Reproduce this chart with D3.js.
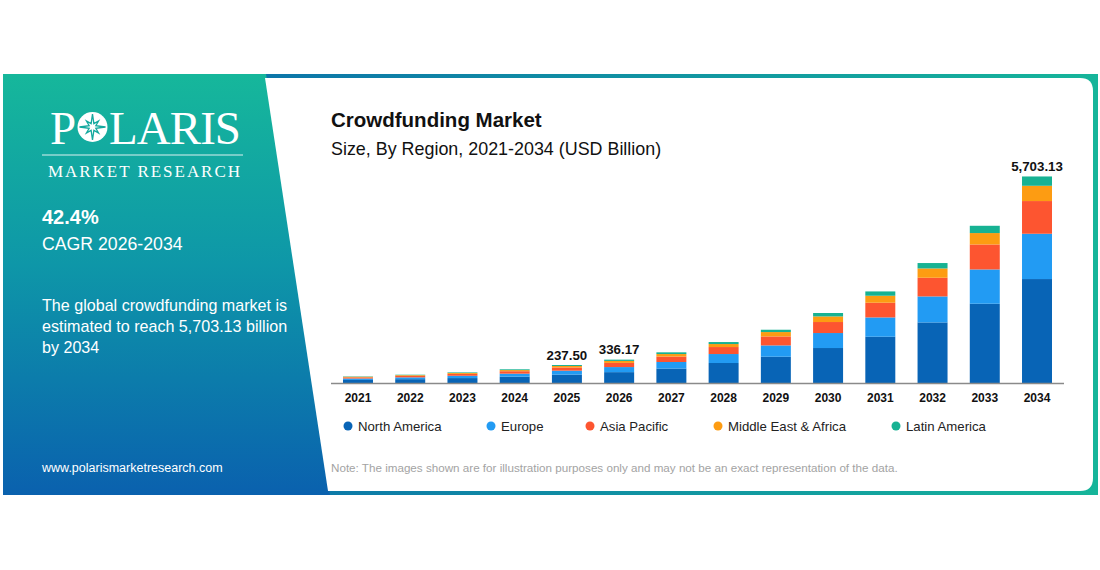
<!DOCTYPE html>
<html>
<head>
<meta charset="utf-8">
<script src="https://cdn.jsdelivr.net/npm/d3@7"></script>
<style>
  body { margin: 0; background: #fff; }
  svg { display: block; font-family: "Liberation Sans", Arial, sans-serif; }
</style>
</head>
<body>
<script>
// chart values (bars are drawn as pictured)
var years = ["2021","2022","2023","2024","2025","2026","2027","2028","2029","2030","2031","2032","2033","2034"];
var regions = ["North America", "Europe", "Asia Pacific", "Middle East & Africa", "Latin America"];
var colors = ["#0864b6", "#229bf3", "#fd5530", "#fd9c12", "#17b293"];

var northAmerica = [84, 106, 136, 176, 232, 300, 400, 552, 726, 966, 1278, 1673, 2189, 2871];
var europe       = [40, 50, 64, 82, 108, 140, 180, 248, 312, 414, 533, 718, 947, 1251];
var asiaPacific  = [32, 41, 52, 67, 88, 115, 150, 193, 248, 304, 406, 516, 690, 903];
var meAfrica     = [16, 20, 25, 32, 42, 55, 70, 83, 121, 155, 193, 257, 315, 422];
var latAmerica   = [10, 12, 16, 21, 27, 35, 47, 55, 64, 94, 119, 149, 201, 257];

var valueLabels = [
  {year: "2025", text: "237.50"},
  {year: "2026", text: "336.17"},
  {year: "2034", text: "5,703.13"}
];

var W = 1100, H = 570;
var svg = d3.select("body").append("svg")
  .attr("width", W)
  .attr("height", H);

var defs = svg.append("defs");
var hg = defs.append("linearGradient").attr("id", "frameGrad")
  .attr("x1", "0%").attr("y1", "0%").attr("x2", "100%").attr("y2", "0%");
hg.append("stop").attr("offset", "0%").attr("stop-color", "#0a62ae");
hg.append("stop").attr("offset", "100%").attr("stop-color", "#16b59a");

var vg = defs.append("linearGradient").attr("id", "panelGrad")
  .attr("x1", "0%").attr("y1", "0%").attr("x2", "0%").attr("y2", "100%");
vg.append("stop").attr("offset", "0%").attr("stop-color", "#16b79b");
vg.append("stop").attr("offset", "45%").attr("stop-color", "#0e97a8");
vg.append("stop").attr("offset", "100%").attr("stop-color", "#0a61ae");

// frame + left panel
svg.append("rect")
  .attr("x", 3).attr("y", 74)
  .attr("width", 1095).attr("height", 421)
  .attr("fill", "url(#frameGrad)");

svg.append("path")
  .attr("d", "M3,74 L266,74 L330,495 L3,495 Z")
  .attr("fill", "url(#panelGrad)");

// white chart card
var r = 13;
svg.append("path")
  .attr("d", "M265,78 L" + (1093 - r) + ",78 Q1093,78 1093," + (78 + r) +
    " L1093," + (491 - r) + " Q1093,491 " + (1093 - r) + ",491 L328,491 Z")
  .attr("fill", "#fff");

// logo
var logo = svg.append("g").attr("fill", "#fff");
logo.append("text")
  .attr("x", 50).attr("y", 144)
  .style("font-family", "'Liberation Serif', 'DejaVu Serif', serif")
  .style("font-size", "47px")
  .text("P");
logo.append("text")
  .attr("x", 109).attr("y", 144)
  .attr("textLength", 132)
  .style("font-family", "'Liberation Serif', 'DejaVu Serif', serif")
  .style("font-size", "47px")
  .text("LARIS");

var cx = 92.5, cy = 127;
logo.append("circle").attr("cx", cx).attr("cy", cy).attr("r", 15);
var star = [];
for (var i = 0; i < 16; i++) {
  var a = i * Math.PI / 8 - Math.PI / 2;
  var rr = (i % 4 === 0) ? 13 : (i % 2 === 0 ? 8.5 : 3.6);
  star.push([cx + rr * Math.cos(a), cy + rr * Math.sin(a)]);
}
svg.append("path")
  .attr("d", d3.line()(star) + "Z")
  .attr("fill", "#fff")
  .attr("stroke", "#14a99f")
  .attr("stroke-width", 1.3);

svg.append("line")
  .attr("x1", 42).attr("x2", 243)
  .attr("y1", 155).attr("y2", 155)
  .attr("stroke", "#fff").attr("stroke-width", 1.2).attr("opacity", 0.85);

svg.append("text")
  .attr("x", 48).attr("y", 177)
  .attr("textLength", 192)
  .attr("fill", "#fff")
  .style("font-family", "'Liberation Serif', 'DejaVu Serif', serif")
  .style("font-size", "17px")
  .text("MARKET RESEARCH");

// left panel text
svg.append("text")
  .attr("x", 42).attr("y", 224)
  .attr("fill", "#fff")
  .style("font-size", "20px").style("font-weight", "bold")
  .text("42.4%");
svg.append("text")
  .attr("x", 42).attr("y", 250)
  .attr("fill", "#fff")
  .style("font-size", "17.7px")
  .text("CAGR 2026-2034");

var para = ["The global crowdfunding market is",
  "estimated to reach 5,703.13 billion", "by 2034"];
svg.append("g").selectAll("text")
  .data(para)
  .join("text")
  .attr("x", 42)
  .attr("y", function(d, i) { return 311 + i * 21; })
  .attr("fill", "#fff")
  .style("font-size", "16.1px")
  .text(function(d) { return d; });

svg.append("text")
  .attr("x", 42).attr("y", 472)
  .attr("fill", "#fff")
  .style("font-size", "12.5px")
  .text("www.polarismarketresearch.com");

// titles
svg.append("text")
  .attr("x", 331).attr("y", 127)
  .attr("fill", "#111")
  .style("font-size", "20.5px").style("font-weight", "bold")
  .text("Crowdfunding Market");
svg.append("text")
  .attr("x", 331).attr("y", 155)
  .attr("fill", "#111")
  .style("font-size", "17.9px")
  .text("Size, By Region, 2021-2034 (USD Billion)");

// chart
var x = d3.scaleBand()
  .domain(years)
  .range([343, 1052])
  .paddingInner(0.426)
  .paddingOuter(0);

var y = d3.scaleLinear()
  .domain([0, 5703.13])
  .range([383, 176.5]);

var table = years.map(function(yr, i) {
  return {
    year: yr,
    "North America": northAmerica[i],
    "Europe": europe[i],
    "Asia Pacific": asiaPacific[i],
    "Middle East & Africa": meAfrica[i],
    "Latin America": latAmerica[i]
  };
});

var series = d3.stack().keys(regions)(table);

svg.append("g")
  .selectAll("g")
  .data(series)
  .join("g")
  .attr("fill", function(d, i) { return colors[i]; })
  .selectAll("rect")
  .data(function(d) { return d; })
  .join("rect")
  .attr("x", function(d) { return x(d.data.year); })
  .attr("width", x.bandwidth())
  .attr("y", function(d) { return y(d[1]); })
  .attr("height", function(d) { return y(d[0]) - y(d[1]); });

svg.append("line")
  .attr("x1", 331).attr("x2", 1064)
  .attr("y1", 383.5).attr("y2", 383.5)
  .attr("stroke", "#8a8a8a").attr("stroke-width", 1.5);

var xAxis = svg.append("g")
  .attr("transform", "translate(0,383)")
  .call(d3.axisBottom(x).tickSize(0).tickPadding(10));
xAxis.select(".domain").remove();
xAxis.selectAll("text")
  .attr("fill", "#111")
  .style("font-family", "'Liberation Sans', Arial, sans-serif")
  .style("font-size", "12px")
  .style("font-weight", "bold");

var totals = {};
table.forEach(function(d) {
  totals[d.year] = regions.reduce(function(s, k) { return s + d[k]; }, 0);
});

svg.append("g")
  .selectAll("text")
  .data(valueLabels)
  .join("text")
  .attr("x", function(d) { return x(d.year) + x.bandwidth() / 2; })
  .attr("y", function(d) { return y(totals[d.year]) - 5.5; })
  .attr("text-anchor", "middle")
  .attr("fill", "#111")
  .style("font-size", "13.3px").style("font-weight", "bold")
  .text(function(d) { return d.text; });

// legend
var legendX = [348, 491, 590, 718, 896];
var legend = svg.append("g")
  .selectAll("g")
  .data(regions)
  .join("g")
  .attr("transform", function(d, i) { return "translate(" + legendX[i] + ",426)"; });
legend.append("circle")
  .attr("r", 4.5)
  .attr("fill", function(d, i) { return colors[i]; });
legend.append("text")
  .attr("x", 10).attr("y", 4.5)
  .attr("fill", "#222")
  .style("font-size", "13.2px")
  .text(function(d) { return d; });

svg.append("text")
  .attr("x", 331).attr("y", 472)
  .attr("fill", "#a3a3a3")
  .style("font-size", "11.65px")
  .text("Note: The images shown are for illustration purposes only and may not be an exact representation of the data.");
</script>
</body>
</html>
